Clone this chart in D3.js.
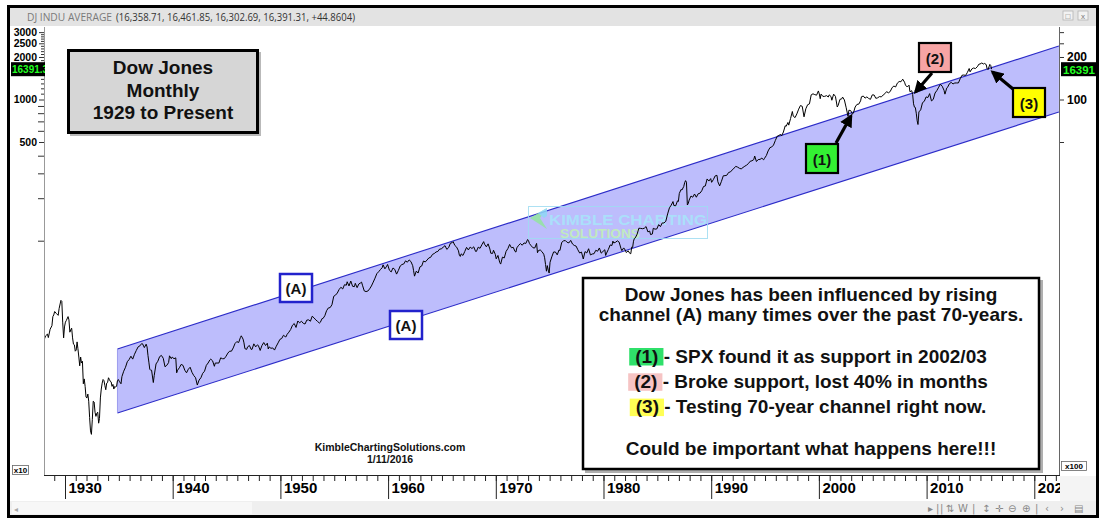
<!DOCTYPE html>
<html><head><meta charset="utf-8">
<script src="https://cdn.jsdelivr.net/npm/d3@7"></script>
<style>
body{margin:0;background:#fff;}
svg{display:block;font-family:"Liberation Sans",Arial,Helvetica,sans-serif;}
</style>
</head><body>
<svg id="c" width="1106" height="523"></svg>
<script>
// ---------------- DATA ----------------
const dowSeries = [
["1928-01",196],["1928-03",212],["1928-05",218],["1928-06",206],["1928-08",236],["1928-10",250],["1928-11",290],["1928-12",298],
["1929-01",315],["1929-03",305],["1929-05",296],["1929-06",330],["1929-08",378],["1929-09",372],["1929-10",265],["1929-11",205],["1929-12",245],
["1930-01",265],["1930-02",272],["1930-04",290],["1930-05",275],["1930-06",225],["1930-07",234],["1930-08",240],["1930-09",205],["1930-10",185],["1930-11",183],["1930-12",165],
["1931-01",168],["1931-02",192],["1931-03",172],["1931-04",150],["1931-05",130],["1931-06",150],["1931-07",136],["1931-08",140],["1931-09",97],["1931-10",105],["1931-11",93],["1931-12",78],
["1932-01",77],["1932-02",82],["1932-03",73],["1932-04",56],["1932-05",45],["1932-06",42.5],["1932-07",54],["1932-08",73],["1932-09",72],["1932-10",61],["1932-11",57],["1932-12",60],
["1933-01",61],["1933-02",51],["1933-03",55],["1933-04",77],["1933-05",89],["1933-06",98],["1933-07",104],["1933-08",102],["1933-09",94],["1933-10",88],["1933-11",98],["1933-12",99],
["1934-01",107],["1934-02",104],["1934-03",101],["1934-04",100],["1934-05",93],["1934-06",96],["1934-07",89],["1934-08",93],["1934-09",92],["1934-10",93],["1934-11",102],["1934-12",104],
["1935-01",101],["1935-03",97],["1935-04",109],["1935-06",119],["1935-08",127],["1935-10",139],["1935-12",144],
["1936-02",152],["1936-04",145],["1936-06",157],["1936-08",167],["1936-10",177],["1936-12",180],
["1937-02",187],["1937-03",186],["1937-05",175],["1937-07",185],["1937-08",177],["1937-09",154],["1937-10",138],["1937-11",123],["1937-12",121],
["1938-01",121],["1938-03",99],["1938-04",111],["1938-06",134],["1938-08",140],["1938-10",151],["1938-12",154],
["1939-02",147],["1939-04",128],["1939-06",131],["1939-08",137],["1939-09",153],["1939-11",146],["1939-12",150],
["1940-02",146],["1940-04",148],["1940-05",116],["1940-06",121],["1940-08",126],["1940-10",133],["1940-12",131],
["1941-02",121],["1941-04",116],["1941-06",123],["1941-08",127],["1941-10",117],["1941-12",111],
["1942-02",107],["1942-04",95],["1942-06",103],["1942-08",107],["1942-10",115],["1942-12",119],
["1943-02",131],["1943-04",136],["1943-06",143],["1943-07",145],["1943-09",141],["1943-11",129],["1943-12",136],
["1944-02",136],["1944-04",136],["1944-06",148],["1944-08",146],["1944-10",146],["1944-12",152],
["1945-02",160],["1945-04",165],["1945-06",165],["1945-08",174],["1945-10",187],["1945-12",193],
["1946-02",190],["1946-04",206],["1946-05",212],["1946-07",201],["1946-08",189],["1946-09",172],["1946-11",170],["1946-12",177],
["1947-02",181],["1947-04",170],["1947-05",170],["1947-07",186],["1947-09",177],["1947-11",183],["1947-12",181],
["1948-02",167],["1948-04",181],["1948-06",190],["1948-08",181],["1948-10",188],["1948-11",171],["1948-12",177],
["1949-02",173],["1949-04",174],["1949-06",168],["1949-08",179],["1949-10",189],["1949-12",200],
["1950-02",203],["1950-04",214],["1950-06",209],["1950-07",209],["1950-08",217],["1950-10",225],["1950-12",235],
["1951-02",252],["1951-04",259],["1951-06",243],["1951-08",270],["1951-10",262],["1951-12",269],
["1952-02",260],["1952-04",257],["1952-06",274],["1952-08",275],["1952-10",269],["1952-12",292],
["1953-02",284],["1953-04",275],["1953-06",268],["1953-08",261],["1953-09",264],["1953-11",281],["1953-12",281],
["1954-02",294],["1954-04",319],["1954-06",334],["1954-08",336],["1954-10",352],["1954-12",404],
["1955-02",412],["1955-04",426],["1955-06",451],["1955-08",468],["1955-10",455],["1955-12",488],
["1956-02",484],["1956-03",512],["1956-05",478],["1956-07",518],["1956-09",475],["1956-11",473],["1956-12",499],
["1957-02",465],["1957-04",494],["1957-06",503],["1957-07",509],["1957-08",484],["1957-10",441],["1957-12",436],
["1958-02",440],["1958-04",456],["1958-06",478],["1958-08",509],["1958-10",543],["1958-12",584],
["1959-02",603],["1959-04",624],["1959-06",644],["1959-07",675],["1959-09",632],["1959-11",660],["1959-12",679],
["1960-02",618],["1960-04",601],["1960-06",641],["1960-08",626],["1960-10",580],["1960-12",616],
["1961-02",662],["1961-04",678],["1961-06",684],["1961-08",720],["1961-10",704],["1961-12",731],
["1962-02",711],["1962-04",665],["1962-05",613],["1962-06",561],["1962-08",609],["1962-10",590],["1962-12",652],
["1963-02",662],["1963-04",718],["1963-06",707],["1963-08",730],["1963-10",755],["1963-12",763],
["1964-02",800],["1964-04",811],["1964-06",832],["1964-08",839],["1964-10",873],["1964-12",874],
["1965-02",903],["1965-04",922],["1965-06",868],["1965-08",893],["1965-10",960],["1965-12",969],
["1966-01",984],["1966-03",925],["1966-05",900],["1966-07",848],["1966-08",788],["1966-09",774],["1966-10",807],["1966-12",786],
["1967-02",840],["1967-04",897],["1967-06",860],["1967-08",901],["1967-10",880],["1967-12",905],
["1968-02",840],["1968-03",840],["1968-05",900],["1968-07",883],["1968-09",936],["1968-11",985],["1968-12",944],
["1969-02",905],["1969-04",950],["1969-06",873],["1969-07",815],["1969-09",813],["1969-10",856],["1969-12",800],
["1970-01",744],["1970-03",786],["1970-05",700],["1970-06",683],["1970-08",765],["1970-10",755],["1970-12",839],
["1971-02",879],["1971-04",941],["1971-06",891],["1971-08",898],["1971-10",839],["1971-11",831],["1971-12",890],
["1972-02",928],["1972-04",954],["1972-06",929],["1972-08",964],["1972-10",956],["1972-12",1020],
["1973-01",1000],["1973-02",955],["1973-04",921],["1973-06",891],["1973-08",888],["1973-10",957],["1973-11",822],["1973-12",851],
["1974-02",860],["1974-04",837],["1974-06",802],["1974-07",757],["1974-08",679],["1974-09",608],["1974-10",666],["1974-11",619],["1974-12",590],
["1975-01",704],["1975-03",768],["1975-05",832],["1975-07",832],["1975-09",794],["1975-11",860],["1975-12",852],
["1976-02",973],["1976-04",997],["1976-06",1003],["1976-08",974],["1976-10",965],["1976-12",1005],
["1977-02",947],["1977-04",926],["1977-06",916],["1977-08",862],["1977-10",818],["1977-12",831],
["1978-02",742],["1978-04",837],["1978-06",819],["1978-08",877],["1978-10",793],["1978-12",805],
["1979-02",809],["1979-04",855],["1979-06",842],["1979-08",888],["1979-10",816],["1979-12",839],
["1980-02",863],["1980-03",786],["1980-04",817],["1980-06",868],["1980-08",933],["1980-10",925],["1980-11",993],["1980-12",964],
["1981-02",975],["1981-04",998],["1981-06",977],["1981-08",882],["1981-09",850],["1981-11",889],["1981-12",875],
["1982-02",824],["1982-04",848],["1982-06",812],["1982-07",809],["1982-08",901],["1982-09",896],["1982-10",992],["1982-11",1039],["1982-12",1047],
["1983-02",1113],["1983-04",1226],["1983-06",1222],["1983-08",1216],["1983-10",1225],["1983-12",1259],
["1984-02",1155],["1984-04",1170],["1984-05",1105],["1984-07",1115],["1984-08",1224],["1984-10",1207],["1984-12",1212],
["1985-02",1300],["1985-04",1258],["1985-06",1336],["1985-08",1334],["1985-10",1374],["1985-12",1547],
["1986-02",1710],["1986-04",1784],["1986-06",1893],["1986-07",1775],["1986-09",1768],["1986-11",1914],["1986-12",1896],
["1987-01",2158],["1987-03",2305],["1987-04",2286],["1987-06",2419],["1987-07",2572],["1987-08",2663],["1987-09",2596],["1987-10",1790],["1987-11",1834],["1987-12",1939],
["1988-02",2072],["1988-04",2032],["1988-06",2142],["1988-08",2032],["1988-10",2149],["1988-12",2169],
["1989-02",2258],["1989-04",2419],["1989-06",2440],["1989-08",2737],["1989-10",2645],["1989-12",2753],
["1990-01",2591],["1990-03",2707],["1990-05",2877],["1990-07",2905],["1990-08",2614],["1990-10",2442],["1990-12",2634],
["1991-02",2882],["1991-04",2888],["1991-06",2907],["1991-08",3044],["1991-10",3069],["1991-12",3169],
["1992-02",3268],["1992-04",3359],["1992-06",3319],["1992-08",3257],["1992-10",3226],["1992-12",3301],
["1993-02",3371],["1993-04",3428],["1993-06",3516],["1993-08",3651],["1993-10",3681],["1993-12",3754],
["1994-01",3978],["1994-03",3636],["1994-05",3758],["1994-07",3765],["1994-09",3843],["1994-11",3739],["1994-12",3834],
["1995-02",4011],["1995-04",4321],["1995-06",4556],["1995-08",4611],["1995-10",4756],["1995-12",5117],
["1996-02",5485],["1996-04",5569],["1996-06",5654],["1996-07",5528],["1996-09",5882],["1996-11",6521],["1996-12",6448],
["1997-02",6877],["1997-03",6583],["1997-05",7331],["1997-07",8223],["1997-08",7622],["1997-10",7442],["1997-12",7908],
["1998-02",8546],["1998-04",9063],["1998-06",8952],["1998-08",7539],["1998-10",8592],["1998-12",9181],
["1999-02",9307],["1999-04",10789],["1999-06",10971],["1999-08",10829],["1999-10",10730],["1999-12",11497],
["2000-01",10941],["2000-02",10128],["2000-03",10922],["2000-05",10522],["2000-07",10522],["2000-09",10651],["2000-11",10415],["2000-12",10787],
["2001-02",10495],["2001-03",9879],["2001-05",10912],["2001-07",10523],["2001-09",8847],["2001-10",9075],["2001-12",10022],
["2002-02",10106],["2002-03",10404],["2002-05",9925],["2002-07",8737],["2002-09",7592],["2002-10",8397],["2002-12",8342],
["2003-02",7891],["2003-03",7992],["2003-05",8850],["2003-07",9233],["2003-09",9275],["2003-11",9782],["2003-12",10454],
["2004-02",10584],["2004-04",10226],["2004-06",10435],["2004-08",10174],["2004-10",10027],["2004-12",10783],
["2005-02",10766],["2005-04",10193],["2005-06",10275],["2005-08",10482],["2005-10",10440],["2005-12",10718],
["2006-02",10993],["2006-04",11367],["2006-06",11150],["2006-08",11381],["2006-10",12081],["2006-12",12463],
["2007-02",12269],["2007-04",13063],["2007-06",13408],["2007-08",13358],["2007-10",13930],["2007-12",13264],
["2008-01",12650],["2008-03",12262],["2008-05",12638],["2008-06",11350],["2008-08",11543],["2008-09",10850],["2008-10",9325],["2008-11",8829],["2008-12",8776],
["2009-01",8000],["2009-02",7063],["2009-03",6650],["2009-04",8168],["2009-06",8447],["2009-08",9496],["2009-10",9713],["2009-12",10428],
["2010-02",10325],["2010-04",11008],["2010-06",9774],["2010-08",10015],["2010-10",11118],["2010-12",11578],
["2011-02",12226],["2011-04",12811],["2011-06",12414],["2011-08",11614],["2011-09",10913],["2011-11",12046],["2011-12",12218],
["2012-02",12952],["2012-04",13214],["2012-06",12880],["2012-08",13091],["2012-10",13096],["2012-12",13104],
["2013-02",14054],["2013-04",14840],["2013-06",14910],["2013-08",14810],["2013-10",15546],["2013-12",16577],
["2014-01",15699],["2014-03",16458],["2014-05",16717],["2014-07",16563],["2014-09",17043],["2014-11",17828],["2014-12",17823],
["2015-02",18133],["2015-04",17841],["2015-05",18011],["2015-07",17690],["2015-08",16528],["2015-09",16285],["2015-11",17720],["2015-12",17425],
["2016-01",16391]
];
const channelDates = ["1934-11", "2022-04"];
const channelUpper = [171, 23930];
const channelLower = [60.2, 8160];
const leftLabelTicks = [5000, 10000, 20000, 25000, 30000];   // shown /10
const leftMajorTicks = [1000, 2000, 3000, 4000, 6000, 7000, 8000, 9000];
const leftMinorTicks = [11000,12000,13000,14000,15000,16000,17000,18000,19000,21000,22000,23000,24000,26000,27000,28000,29000];
const rightLabelTicks = [10000, 20000];  // shown /100
const rightMajorTicks = [5000, 25000, 30000];
const decadeYears = [1930,1940,1950,1960,1970,1980,1990,2000,2010,2020];
const yearTicks = d3.range(1929, 2023);
const headerName = "DJ INDU AVERAGE";
const headerValues = "(16,358.71, 16,461.85, 16,302.69, 16,391.31, +44.8604)";
const lastValue = 16391.31;
const titleLines = ["Dow Jones", "Monthly", "1929 to Present"];
const noteLines = ["Dow Jones has been influenced by rising", "channel (A) many times over the past 70-years."];
const keyLines = [
  {tag:"(1)", text:" - SPX found it as support in 2002/03", color:"#2fe06a"},
  {tag:"(2)", text:" - Broke support, lost 40% in months", color:"#f6c4c4"},
  {tag:"(3)", text:" - Testing 70-year channel right now.", color:"#ffff55"}
];
const closingLine = "Could be important what happens here!!!";
const siteText = "KimbleChartingSolutions.com";
const dateText = "1/11/2016";

// ---------------- SCALES ----------------
const parse = s => { const [y,m] = s.split("-").map(Number); return new Date(y, m-1, 15); };
const X0 = 44, X1 = 1059, Y0 = 27, Y1 = 475;
const x = d3.scaleTime().domain([new Date(1930,0,1), new Date(1970,0,1)]).range([65, 495.8]);
const y = d3.scaleLog().domain([1000, 10000]).range([240.7, 99.5]);

const svg = d3.select("#c");
const defs = svg.append("defs");
defs.append("clipPath").attr("id","plotClip").append("rect")
  .attr("x",X0).attr("y",Y0).attr("width",X1-X0).attr("height",Y1-Y0);
defs.append("clipPath").attr("id","xlabClip").append("rect")
  .attr("x",X0).attr("y",0).attr("width",X1-X0+1.5).attr("height",30);
defs.append("marker").attr("id","arr").attr("viewBox","0 0 10 10").attr("refX",8).attr("refY",5)
  .attr("markerWidth",13).attr("markerHeight",13).attr("markerUnits","userSpaceOnUse").attr("orient","auto")
  .append("path").attr("d","M0,0 L10,5 L0,10 Z").attr("fill","#000");

// background
svg.append("rect").attr("width",1106).attr("height",523).attr("fill","#fff");

// header bar
svg.append("rect").attr("x",10).attr("y",8).attr("width",1086).attr("height",18).attr("fill","#e3e3e3");
svg.append("text").attr("x",27).attr("y",21).attr("font-size",11.5).attr("fill","#7a7a7a")
  .attr("font-family","'Open Sans','Noto Sans',sans-serif").attr("textLength",85).attr("lengthAdjust","spacingAndGlyphs").text(headerName);
svg.append("text").attr("x",116).attr("y",21).attr("font-size",11.5).attr("fill","#333")
  .attr("font-family","'Open Sans','Noto Sans',sans-serif").attr("textLength",239).attr("lengthAdjust","spacingAndGlyphs").text(headerValues);
// window buttons
[[1063,"\u25a1"],[1078,"x"]].forEach(([bx,g])=>{
  svg.append("rect").attr("x",bx).attr("y",11).attr("width",10).attr("height",9).attr("fill","#f2f2f2").attr("stroke","#b5b5b5").attr("stroke-width",0.8);
  svg.append("text").attr("x",bx+5).attr("y",19).attr("text-anchor","middle").attr("font-size",8).attr("fill","#777").text(g);
});

// ---------------- PLOT ----------------
const plot = svg.append("g").attr("clip-path","url(#plotClip)");
const chPts = [
  [x(parse(channelDates[0])), y(channelUpper[0])],
  [x(parse(channelDates[1])), y(channelUpper[1])],
  [x(parse(channelDates[1])), y(channelLower[1])],
  [x(parse(channelDates[0])), y(channelLower[0])]
];
plot.append("polygon").attr("points", chPts.map(p=>p.join(",")).join(" ")).attr("fill","#bdbdfc");
plot.append("line").attr("x1",chPts[0][0]).attr("y1",chPts[0][1]).attr("x2",chPts[1][0]).attr("y2",chPts[1][1])
  .attr("stroke","#2c2cc8").attr("stroke-width",1.1);
plot.append("line").attr("x1",chPts[3][0]).attr("y1",chPts[3][1]).attr("x2",chPts[2][0]).attr("y2",chPts[2][1])
  .attr("stroke","#2c2cc8").attr("stroke-width",1.1);
plot.append("line").attr("x1",chPts[0][0]).attr("y1",chPts[0][1]).attr("x2",chPts[3][0]).attr("y2",chPts[3][1])
  .attr("stroke","#8c8ce8").attr("stroke-width",0.8);

// watermark
const wm = plot.append("g").attr("opacity",0.85);
wm.append("rect").attr("x",528.5).attr("y",206.5).attr("width",179).attr("height",32).attr("fill","none").attr("stroke","#9fdcf2").attr("stroke-width",1);
wm.append("polygon").attr("points","547,208 530,218 547,229 540,218").attr("fill","#93e6a0");
wm.append("polygon").attr("points","547,208 538,213 544,218 547,216").attr("fill","#8fd8f5");
wm.append("text").attr("x",549).attr("y",225).attr("font-size",15).attr("font-weight","bold")
  .attr("fill","#a8e6fa").attr("textLength",158).attr("lengthAdjust","spacingAndGlyphs").text("KIMBLE CHARTING");
wm.append("text").attr("x",560).attr("y",238).attr("font-size",13).attr("font-weight","bold")
  .attr("fill","#c2f2b4").attr("textLength",80).attr("lengthAdjust","spacingAndGlyphs").text("SOLUTIONS");

// price line
const line = d3.line().x(d=>x(parse(d[0]))).y(d=>y(d[1]));
plot.append("path").datum(dowSeries).attr("d",line).attr("fill","none").attr("stroke","#000").attr("stroke-width",1).attr("stroke-linejoin","miter");

// ---------------- AXES ----------------
const axisFont = "'Liberation Sans',Arial,sans-serif";
// left
const la = svg.append("g").attr("transform",`translate(${X0},0)`);
la.call(d3.axisLeft(y).tickValues(leftMajorTicks).tickSize(6).tickFormat(""));
la.call(g=>g.select(".domain").remove());
const la2 = svg.append("g").attr("transform",`translate(${X0},0)`);
la2.call(d3.axisLeft(y).tickValues(leftMinorTicks).tickSize(3).tickFormat(""));
la2.call(g=>g.select(".domain").remove());
const la3 = svg.append("g").attr("transform",`translate(${X0},0)`);
la3.call(d3.axisLeft(y).tickValues(leftLabelTicks).tickSize(5).tickPadding(2).tickFormat(d=>d/10));
la3.call(g=>g.select(".domain").remove());
[la,la2,la3].forEach(g=>{ g.selectAll("line").attr("stroke","#333"); g.selectAll("text").attr("font-size",10.5).attr("font-weight","bold").attr("fill","#000").attr("font-family",axisFont); });
svg.append("line").attr("x1",X0+0.5).attr("x2",X0+0.5).attr("y1",Y0).attr("y2",Y1).attr("stroke","#999").attr("stroke-width",1);

// right
const ra = svg.append("g").attr("transform",`translate(${X1},0)`);
ra.call(d3.axisRight(y).tickValues(rightMajorTicks).tickSize(5).tickFormat(""));
ra.call(g=>g.select(".domain").remove());
const ra2 = svg.append("g").attr("transform",`translate(${X1},0)`);
ra2.call(d3.axisRight(y).tickValues(rightLabelTicks).tickSize(5).tickPadding(3).tickFormat(d=>d/100));
ra2.call(g=>g.select(".domain").remove());
[ra,ra2].forEach(g=>{ g.selectAll("line").attr("stroke","#333"); g.selectAll("text").attr("font-size",12).attr("font-weight","bold").attr("fill","#000").attr("font-family",axisFont); });
svg.append("line").attr("x1",X1+0.5).attr("x2",X1+0.5).attr("y1",Y0).attr("y2",Y1).attr("stroke","#666").attr("stroke-width",1);

// current value labels
defs.append("clipPath").attr("id","lv").append("rect").attr("x",10).attr("y",60).attr("width",35).attr("height",18);
defs.append("clipPath").attr("id","rv").append("rect").attr("x",1061).attr("y",60).attr("width",35).attr("height",18);
const yl = y(lastValue);
svg.append("rect").attr("x",11).attr("y",yl-7).attr("width",34).attr("height",14).attr("fill","#000");
svg.append("text").attr("clip-path","url(#lv)").attr("x",12).attr("y",yl+4).attr("font-size",10).attr("font-weight","bold").attr("fill","#22ff22").text(d3.format(".1f")(lastValue));
svg.append("rect").attr("x",1061).attr("y",yl-7).attr("width",36).attr("height",14).attr("fill","#000");
svg.append("text").attr("clip-path","url(#rv)").attr("x",1063).attr("y",yl+4.5).attr("font-size",11.5).attr("font-weight","bold").attr("fill","#22ff22").text(d3.format(".0f")(lastValue));

// bottom axis
const xa = svg.append("g").attr("transform",`translate(0,${Y1})`);
xa.call(d3.axisBottom(x).tickValues(yearTicks.map(yv=>new Date(yv,0,1))).tickSize(6).tickFormat(""));
xa.selectAll(".tick").filter(d=>x(d)<X0||x(d)>X1).remove();
xa.select(".domain").remove();
const xa2 = svg.append("g").attr("transform",`translate(0,${Y1})`).attr("clip-path","url(#xlabClip)");
xa2.call(d3.axisBottom(x).tickValues(decadeYears.map(yv=>new Date(yv,0,1))).tickSize(24).tickPadding(0).tickFormat(d3.timeFormat("%Y")));
xa2.select(".domain").remove();
xa2.selectAll("text").attr("text-anchor","start").attr("dx",3).attr("y",7).attr("font-size",15).attr("font-weight","bold").attr("fill","#000").attr("font-family",axisFont);
[xa,xa2].forEach(g=>g.selectAll("line").attr("stroke","#222"));
svg.append("line").attr("x1",X0).attr("x2",X1+1).attr("y1",Y1+0.5).attr("y2",Y1+0.5).attr("stroke","#222");
svg.append("rect").attr("x",X1+1).attr("y",Y1+1).attr("width",37).attr("height",25).attr("fill","#f4f4f4");

// multiplier boxes
[[12,465,16,"x10"],[1061,461,25,"x100"]].forEach(([bx,by,bw,t])=>{
  svg.append("rect").attr("x",bx+0.5).attr("y",by+0.5).attr("width",bw).attr("height",9).attr("fill","#fff").attr("stroke","#666").attr("stroke-width",0.8);
  svg.append("text").attr("x",bx+bw/2+0.5).attr("y",by+8).attr("text-anchor","middle").attr("font-size",8).attr("font-weight","bold").text(t);
});

// scrollbar
svg.append("rect").attr("x",10).attr("y",501).attr("width",1086).attr("height",14).attr("fill","#efefef");
svg.append("rect").attr("x",12).attr("y",502).attr("width",240).attr("height",12).attr("fill","#f7f7f7");
svg.append("text").attr("x",14).attr("y",512).attr("font-size",8).attr("fill","#aaa").text("\u25c2");
const ctrls = [[928,"\u25b8"],[936,"|"],[940,"|"],[946,"\u21c5"],[958,"W"],[972,"|"],[982,"\u2195"],[995,"\u271b"],[1008,"\u2296"],[1022,"\u2295"],[1035,"|"],[1045,"\u2039"],[1060,"\u203a"],[1074,"\u25a4"]];
ctrls.forEach(([cx,g])=>svg.append("text").attr("x",cx).attr("y",512).attr("font-size",10).attr("font-family","'DejaVu Sans',sans-serif").attr("fill","#888").text(g));

// ---------------- ANNOTATIONS ----------------
// title box
svg.append("rect").attr("x",70).attr("y",52).attr("width",191).attr("height",84).attr("fill","#8a8a8a").attr("opacity",0.6);
svg.append("rect").attr("x",68.5).attr("y",50.5).attr("width",189).attr("height",82).attr("fill","#d6d6d6").attr("stroke","#000").attr("stroke-width",3);
titleLines.forEach((t,i)=>svg.append("text").attr("x",163).attr("y",74+i*22.6).attr("text-anchor","middle")
  .attr("font-size",19).attr("font-weight","bold").attr("fill","#111").text(t));

// (A) labels
[[279,273],[389,310]].forEach(([bx,by])=>{
  svg.append("rect").attr("x",bx+1).attr("y",by+1).attr("width",32).attr("height",28).attr("fill","#fff").attr("stroke","#2222cc").attr("stroke-width",2.5);
  svg.append("text").attr("x",bx+17).attr("y",by+21).attr("text-anchor","middle").attr("font-size",15).attr("font-weight","bold").attr("fill","#111").text("(A)");
});

// numbered boxes + arrows
const numBoxes = [
  {x:805,y:143,c:"#33f033",t:"(1)",a:[836,143,851,116]},
  {x:918,y:42,c:"#f7a4a4",t:"(2)",a:[932,73,915.5,92]},
  {x:1012,y:87,c:"#ffff00",t:"(3)",a:[1013,89,992.5,72]}
];
numBoxes.forEach(b=>{
  svg.append("line").attr("x1",b.a[0]).attr("y1",b.a[1]).attr("x2",b.a[2]).attr("y2",b.a[3])
    .attr("stroke","#000").attr("stroke-width",3.2).attr("marker-end","url(#arr)");
  svg.append("rect").attr("x",b.x+1).attr("y",b.y+1).attr("width",32).attr("height",29).attr("fill",b.c).attr("stroke","#000").attr("stroke-width",2.2);
  svg.append("text").attr("x",b.x+17).attr("y",b.y+21.5).attr("text-anchor","middle").attr("font-size",15).attr("font-weight","bold").attr("fill","#111").text(b.t);
});

// commentary box
svg.append("rect").attr("x",585).attr("y",280).attr("width",458).attr("height",193).attr("fill","#7a7a7a").attr("opacity",0.6);
svg.append("rect").attr("x",583).attr("y",278).attr("width",456).attr("height",191).attr("fill","#fff").attr("stroke","#000").attr("stroke-width",2.5);
const cx = 811;
noteLines.forEach((t,i)=>svg.append("text").attr("x",cx).attr("y",300.5+i*20).attr("text-anchor","middle")
  .attr("font-size",19).attr("font-weight","bold").attr("fill","#111").text(t));
keyLines.forEach((k,i)=>{
  const by = 362.5 + i*25.3;
  const g = svg.append("g");
  const hl = g.append("rect").attr("fill",k.color);
  const tx = g.append("text").attr("x",cx).attr("y",by).attr("text-anchor","middle")
    .attr("font-size",19).attr("font-weight","bold").attr("fill","#111");
  tx.append("tspan").text(k.tag);
  tx.append("tspan").text(k.text);
  const ext = tx.node().getExtentOfChar(0);
  const ext2 = tx.node().getExtentOfChar(2);
  hl.attr("x",ext.x-6).attr("y",by-14.5).attr("width",ext2.x+ext2.width-ext.x+11).attr("height",17.5);
});
svg.append("text").attr("x",cx).attr("y",455).attr("text-anchor","middle")
  .attr("font-size",19).attr("font-weight","bold").attr("fill","#111").text(closingLine);

// site + date
svg.append("text").attr("x",390).attr("y",451).attr("text-anchor","middle").attr("font-size",10.5).attr("font-weight","bold").attr("fill","#111").text(siteText);
svg.append("text").attr("x",390).attr("y",463).attr("text-anchor","middle").attr("font-size",10.5).attr("font-weight","bold").attr("fill","#111").text(dateText);

// outer frame
svg.append("rect").attr("x",8.5).attr("y",6.5).attr("width",1089).attr("height",510).attr("fill","none").attr("stroke","#000").attr("stroke-width",3);
</script>
</body></html>
